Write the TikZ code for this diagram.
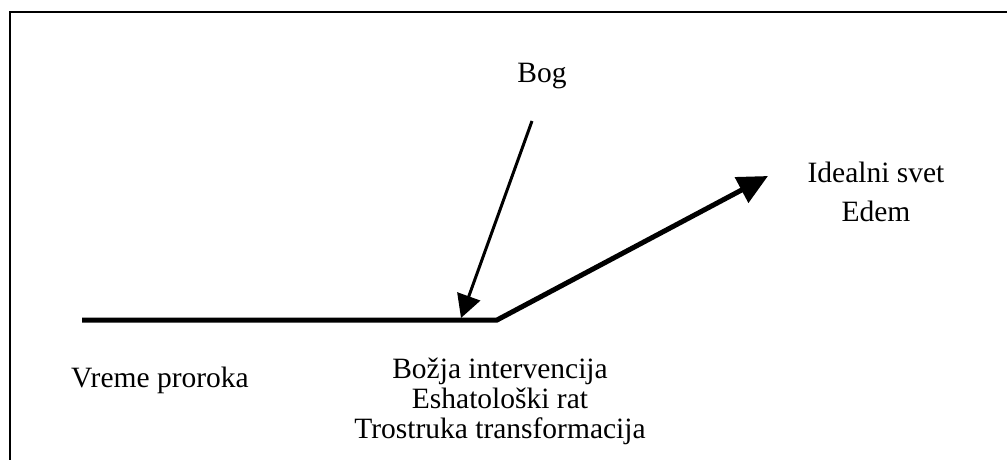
\documentclass[tikz,border=0pt]{standalone}
\usepackage{fontspec}
\setmainfont{Liberation Serif}
\usetikzlibrary{arrows.meta}
\begin{document}
\begin{tikzpicture}[x=1pt,y=-1pt,
  lbl/.style={inner sep=0pt,font=\fontsize{29.5}{30}\selectfont,align=center},
  frameline/.style={line width=2pt},
  timeline/.style={line width=5pt,line join=miter},
  godline/.style={line width=3pt}]
\useasboundingbox (0,0) rectangle (1007,460);
\draw[frameline] (1007,12) -- (10,12) -- (10,460);
% coordinates
\coordinate (start) at (82,320);
\coordinate (bend) at (497,320);
\coordinate (ideal) at (768,176);
\coordinate (godtop) at (532,121);
\coordinate (godtip) at (461,318);
\draw[timeline,-{Triangle[length=30pt,width=28pt]}] (start) -- (bend) -- (ideal);
\draw[godline,-{Triangle[length=23pt,width=24pt]}] (godtop) -- (godtip);
% labels
\node[lbl,anchor=base] (bog) at (542,82) {Bog};
\node[lbl,anchor=base] (vreme) at (160,387) {Vreme proroka};
\node[lbl,anchor=base] (svet) at (876,182) {Idealni svet};
\node[lbl,anchor=base] (edem) at (876,221) {Edem};
\node[lbl,anchor=base] (bozja) at (500,378) {Božja intervencija};
\node[lbl,anchor=base] (rat) at (500,408) {Eshatološki rat};
\node[lbl,anchor=base] (trans) at (500,438) {Trostruka transformacija};
\end{tikzpicture}
\end{document}
